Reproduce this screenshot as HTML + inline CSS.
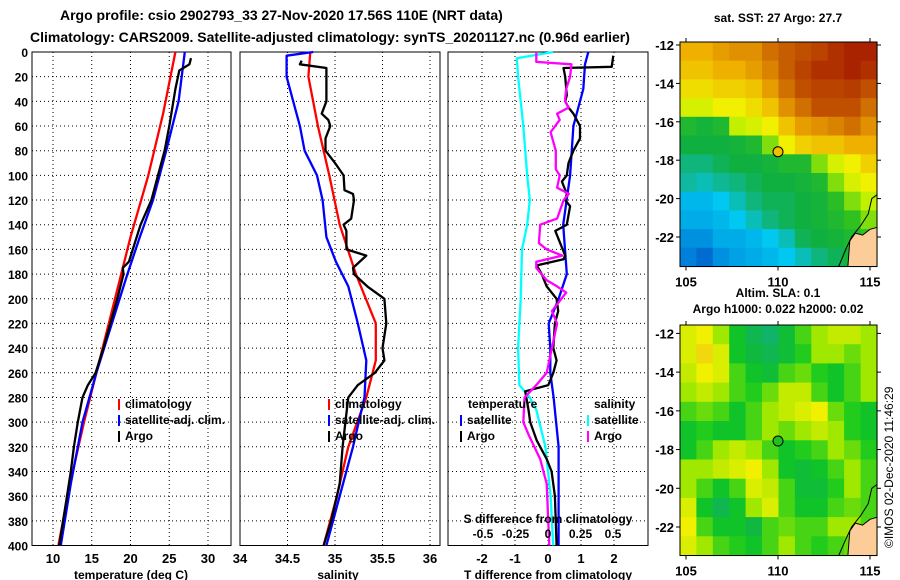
<!DOCTYPE html>
<html><head><meta charset="utf-8">
<style>
html,body{margin:0;padding:0;background:#fff;}
svg{display:block;font-family:"Liberation Sans",sans-serif;font-weight:bold;}
</style></head>
<body>
<svg id="c" width="900" height="580" viewBox="0 0 900 580" xmlns="http://www.w3.org/2000/svg">
<text x="60" y="20" font-size="14">Argo profile: csio 2902793_33 27-Nov-2020 17.56S 110E (NRT data)</text>
<text x="30" y="42" font-size="14">Climatology: CARS2009. Satellite-adjusted climatology: synTS_20201127.nc (0.96d earlier)</text>
<text x="778" y="22" font-size="12" text-anchor="middle">sat. SST: 27 Argo: 27.7</text>
<text x="778" y="297" font-size="12" text-anchor="middle">Altim. SLA: 0.1</text>
<text x="778" y="313" font-size="12" text-anchor="middle">Argo h1000: 0.022 h2000: 0.02</text>
<text x="893" y="548" font-size="12" font-weight="normal" transform="rotate(-90 893 548)">©IMOS 02-Dec-2020 11:46:29</text>
</svg>
<script>
// ---- data ----
const depthTicks=[0,20,40,60,80,100,120,140,160,180,200,220,240,260,280,300,320,340,360,380,400];
const tTicks=[10,15,20,25,30];
const sTicks=[34,34.5,35,35.5,36];
const dTicks=[-2,-1,0,1,2];
const dsTicks=[-0.5,-0.25,0,0.25,0.5];
const dsTickLabels=['-0.5','-0.25','0','0.25','0.5'];

const tClimD=[0,50,100,150,200,250,300,350,400];
const tClimV=[25.8,24.2,22.3,20.0,18.0,16.0,14.0,12.2,10.7];
const tSatD=[0,40,80,120,150,180,220,260,300,350,400];
const tSatV=[27.0,26.2,24.6,22.9,21.2,19.6,17.6,15.6,13.8,12.3,11.0];
const tArgoD=[5,10,15,30,60,80,120,140,170,175,180,200,240,260,270,280,300,320,340,360,400];
const tArgoV=[27.8,27.6,26.3,25.8,25.0,24.4,22.7,21.3,19.8,19.0,19.1,18.3,16.5,15.5,14.5,13.8,13.2,12.7,12.3,11.8,10.8];

const sClimD=[0,20,60,100,140,180,220,250,280,320,360,400];
const sClimV=[34.74,34.72,34.82,34.94,35.05,35.22,35.43,35.43,35.33,35.14,35.02,34.88];
const sSatD=[0,3,20,40,60,80,100,120,150,170,190,220,250,280,320,360,400];
const sSatV=[34.77,34.49,34.49,34.56,34.63,34.68,34.81,34.87,34.91,35.01,35.14,35.24,35.33,35.31,35.19,35.05,34.91];
const sArgoD=[7,10,13,20,40,50,55,60,70,80,90,100,112,115,120,135,140,145,160,165,175,180,190,200,220,240,250,260,270,280,300,320,350,380,400];
const sArgoV=[34.65,34.63,34.91,34.91,34.91,34.86,34.93,34.95,34.90,34.90,35.0,35.09,35.1,35.19,35.2,35.17,35.09,35.12,35.12,35.33,35.19,35.2,35.34,35.52,35.54,35.5,35.52,35.42,35.24,35.14,35.11,35.08,35.05,34.96,34.88];

const dTSatD=[0,10,30,60,100,140,180,200,220,240,260,280,320,360,400];
const dTSatV=[1.22,1.12,1.07,0.77,0.67,0.46,0.57,0.32,0.02,0.07,0.07,0.17,0.32,0.32,0.32];
const dTArgoD=[3,12,13,20,35,40,45,50,60,70,80,90,100,105,115,120,125,140,145,155,165,168,173,180,190,200,210,220,240,250,260,270,275,290,300,315,330,340,360,400];
const dTArgoV=[1.98,1.93,0.47,0.52,0.57,0.52,0.62,0.77,0.97,0.97,0.77,0.62,0.57,0.42,0.57,0.52,0.67,0.57,0.22,0.37,0.52,0.47,-0.34,-0.19,-0.04,0.26,0.31,0.21,0.16,0.26,0.16,0.01,-0.69,-0.59,-0.54,-0.34,-0.04,0.11,0.21,0.26];
const dSSatD=[0,5,20,60,100,120,140,160,200,240,270,280,290,320,360,400];
const dSSatV=[0.04,-0.24,-0.23,-0.19,-0.16,-0.14,-0.16,-0.20,-0.21,-0.23,-0.22,-0.14,-0.09,-0.02,0.02,0.04];
const dSArgoD=[0,8,10,20,30,40,45,50,55,65,80,95,100,110,115,120,135,140,155,160,165,170,175,185,190,195,210,220,240,260,270,280,300,310,330,350,400];
const dSArgoV=[-0.09,-0.09,0.18,0.17,0.14,0.13,0.16,0.07,0.09,0.02,0.06,0.06,0.09,0.07,0.16,0.12,0.07,-0.06,-0.07,-0.01,0.11,-0.09,-0.09,-0.01,0.07,0.14,0.03,0.07,0.03,-0.01,-0.09,-0.18,-0.19,-0.15,-0.06,-0.01,0.01];

const sstGrid=[
[.75,.75,.78,.8,.8,.85,.88,.9,.92,.95,.97,.97],
[.72,.72,.75,.75,.78,.82,.88,.92,.95,.95,.97,.95],
[.68,.68,.7,.7,.72,.78,.85,.9,.92,.92,.93,.9],
[.62,.62,.65,.65,.68,.72,.8,.85,.9,.9,.9,.85],
[.45,.42,.45,.6,.62,.65,.72,.78,.8,.82,.85,.8],
[.4,.4,.4,.42,.45,.55,.65,.7,.72,.72,.75,.75],
[.35,.35,.38,.4,.4,.42,.45,.45,.55,.62,.65,.7],
[.32,.3,.33,.35,.38,.4,.4,.42,.45,.55,.62,.65],
[.22,.22,.25,.3,.35,.38,.38,.4,.42,.48,.55,.6],
[.2,.2,.22,.25,.3,.35,.38,.4,.42,.45,.5,.55],
[.15,.15,.2,.2,.22,.25,.3,.38,.4,.42,.45,.5],
[.12,.08,.15,.18,.2,.22,.25,.3,.35,.38,.42,.45]];
const slaGrid=[
[.6,.62,.55,.45,.38,.35,.42,.5,.55,.58,.58,.55],
[.6,.65,.6,.45,.4,.38,.42,.48,.55,.55,.52,.55],
[.58,.62,.6,.5,.45,.42,.5,.52,.48,.45,.5,.55],
[.55,.58,.55,.5,.48,.52,.58,.58,.5,.45,.5,.55],
[.5,.52,.5,.45,.5,.55,.58,.6,.62,.52,.48,.45],
[.45,.48,.45,.45,.5,.55,.52,.55,.58,.55,.48,.45],
[.45,.5,.55,.58,.55,.5,.45,.48,.5,.55,.52,.48],
[.55,.55,.58,.6,.62,.55,.45,.42,.45,.5,.55,.5],
[.55,.5,.45,.5,.6,.58,.5,.42,.42,.48,.55,.5],
[.6,.45,.38,.45,.55,.6,.5,.45,.45,.5,.52,.5],
[.62,.5,.45,.45,.4,.5,.52,.5,.5,.55,.55,.5],
[.6,.55,.5,.48,.45,.5,.55,.5,.48,.5,.52,.5]];
const lonTicks=[105,110,115];
const latTicks=[-12,-14,-16,-18,-20,-22];
const floatLon=[110.0], floatLat=[-17.56];

// ---- helpers ----
const svg=document.getElementById('c');
const NS='http://www.w3.org/2000/svg';
function mk(tag,attrs,parent){const e=document.createElementNS(NS,tag);for(const k in attrs)e.setAttribute(k,attrs[k]);(parent||svg).appendChild(e);return e;}
function txt(x,y,s,size,anchor,parent){const e=mk('text',{x:x,y:y,'font-size':size,'text-anchor':anchor||'start'},parent);e.textContent=s;return e;}
const Y0=52,Y1=545.5;
const yD=d=>Y0+d*(Y1-Y0)/400;
const p1x=v=>53+(v-10)*7.75;
const p2x=v=>240+(v-34)*95;
const p3T=v=>548+v*33;
const p3S=v=>548+v*130;

function panel(x0,x1,name,xt,xf,labels){
  const g=mk('g',{});
  
  
  depthTicks.forEach(d=>{
    if(d>0&&d<400){const l=mk('line',{x1:x0,x2:x1,y1:yD(d),y2:yD(d),stroke:'#000','stroke-width':1,'stroke-dasharray':'1,3'},g);
    
    }
  });
  xt.forEach((v,i)=>{
    const x=xf(v);
    if(x>x0+1&&x<x1-1){const l=mk('line',{x1:x,x2:x,y1:Y0,y2:Y1,stroke:'#000','stroke-width':1,'stroke-dasharray':'1,3'},g);
    
    }
    const t=txt(x,563,labels?labels[i]:String(v),13,'middle',g);
    
    
  });
  const r=mk('rect',{x:x0,y:Y0,width:x1-x0,height:Y1-Y0,fill:'none',stroke:'#000','stroke-width':1},g);
  
  
  return g;
}
function line(D,V,xf,col,w,name,g){
  const pts=D.map((d,i)=>xf(V[i]).toFixed(1)+','+yD(d).toFixed(1)).join(' ');
  const p=mk('polyline',{points:pts,fill:'none',stroke:col,'stroke-width':w,'stroke-linejoin':'round'},g);
  
  
}
function legend(x,y,col,label,g){
  const m=mk('line',{x1:x,x2:x,y1:y-9,y2:y+2,stroke:col,'stroke-width':2},g);
  
  
  const t=txt(x+6,y,label,12,'start',g);
  
  
}

// y tick labels
depthTicks.forEach(d=>{const t=txt(28,yD(d)+5,String(d),12,'end');

});

// Panel 1
const g1=panel(32,231,'temperature-panel',tTicks,p1x);
line(tClimD,tClimV,p1x,'#f00',2.3,'temperature-climatology-line',g1);
line(tSatD,tSatV,p1x,'#00f',2.3,'temperature-satellite-line',g1);
line(tArgoD,tArgoV,p1x,'#000',2.3,'temperature-argo-line',g1);
legend(119,408,'#f00','climatology',g1);legend(119,424,'#00f','satellite-adj. clim.',g1);legend(119,440,'#000','Argo',g1);
let a=txt(131,579,'temperature (deg C)',12,'middle');

// Panel 2
const g2=panel(240,440,'salinity-panel',sTicks,p2x);
line(sClimD,sClimV,p2x,'#f00',2.3,'salinity-climatology-line',g2);
line(sSatD,sSatV,p2x,'#00f',2.3,'salinity-satellite-line',g2);
line(sArgoD,sArgoV,p2x,'#000',2.3,'salinity-argo-line',g2);
legend(329,408,'#f00','climatology',g2);legend(329,424,'#00f','satellite-adj. clim.',g2);legend(329,440,'#000','Argo',g2);
a=txt(338,579,'salinity',12,'middle');

// Panel 3
const g3=panel(448,648,'difference-panel',dTicks,p3T);
line(dSSatD,dSSatV,p3S,'#0ff',2.3,'salinity-satellite-diff-line',g3);
line(dTSatD,dTSatV,p3T,'#00f',2.3,'temperature-satellite-diff-line',g3);
line(dTArgoD,dTArgoV,p3T,'#000',2.3,'temperature-argo-diff-line',g3);
line(dSArgoD,dSArgoV,p3S,'#f0f',2.3,'salinity-argo-diff-line',g3);
a=txt(468,408,'temperature',12,'start',g3);
a=txt(594,408,'salinity',12,'start',g3);
legend(461,424,'#00f','satellite',g3);legend(461,440,'#000','Argo',g3);
legend(588,424,'#0ff','satellite',g3);legend(588,440,'#f0f','Argo',g3);
a=txt(548,523,'S difference from climatology',12,'middle',g3);
dsTicks.forEach((v,i)=>{const t=txt(p3S(v),538,dsTickLabels[i],12,'middle',g3);

});
a=txt(548,579,'T difference from climatology',12,'middle');

// Maps
function lerp(a,b,t){return a+(b-a)*t;}
function cmap(stops,v){
  for(let i=1;i<stops.length;i++){if(v<=stops[i][0]||i==stops.length-1){
    const s0=stops[i-1],s1=stops[i];let t=(v-s0[0])/(s1[0]-s0[0]);t=Math.max(0,Math.min(1,t));
    return 'rgb('+[0,1,2].map(k=>Math.round(lerp(s0[1][k],s1[1][k],t))).join(',')+')';}}
}
const sstStops=[[0,[0,64,192]],[.15,[0,144,224]],[.25,[0,200,240]],[.32,[16,184,160]],[.4,[16,176,64]],[.5,[48,192,32]],[.58,[176,240,0]],[.65,[240,240,0]],[.75,[240,176,0]],[.85,[208,112,0]],[1,[160,16,0]]];
const slaStops=[[.3,[16,176,144]],[.4,[16,184,64]],[.47,[16,200,32]],[.55,[160,232,0]],[.62,[240,240,0]],[.7,[240,176,32]]];
function map(top,bot,latY0,ppd,grid,stops,name,dotCol){
  const g=mk('g',{});
  
  
  const x0=680,x1=877;
  const lonX=l=>686+(l-105)*18.4;
  const latY=la=>latY0+(-12-la)*ppd;
  const nR=grid.length,nC=grid[0].length;
  const lon0=104.67,lon1=115.38;
  const la0=-12+(latY0-top)/ppd, la1=-12-(bot-latY0)/ppd;
  for(let r=0;r<nR;r++)for(let c=0;c<nC;c++){
    const xa=lonX(lon0+(lon1-lon0)*c/nC),xb=lonX(lon0+(lon1-lon0)*(c+1)/nC);
    const ya=latY(la0+(la1-la0)*r/nR),yb=latY(la0+(la1-la0)*(r+1)/nR);
    const cell=mk('rect',{x:xa.toFixed(1),y:ya.toFixed(1),width:(xb-xa+0.6).toFixed(1),height:(yb-ya+0.6).toFixed(1),fill:cmap(stops,grid[r][c])},g);
    
    
  }
  const land=[[113.8,la1],[113.9,-22.2],[114.2,-21.8],[114.6,-21.9],[115.0,-21.6],[115.38,-21.5],[115.38,la1]];
  const lp=mk('polygon',{points:land.map(p=>lonX(p[0]).toFixed(1)+','+latY(p[1]).toFixed(1)).join(' '),fill:'#fccc99',stroke:'#000','stroke-width':1},g);
  
  
  const coast=[[113.3,la1],[113.7,-22.6],[114.0,-22.0],[114.5,-21.4],[114.9,-20.8],[115.1,-20.0],[115.38,-19.8]];
  const cl=mk('polyline',{points:coast.map(p=>lonX(p[0]).toFixed(1)+','+latY(p[1]).toFixed(1)).join(' '),fill:'none',stroke:'#000','stroke-width':1},g);
  
  
  const fr=mk('rect',{x:x0,y:top,width:x1-x0,height:bot-top,fill:'none',stroke:'#000','stroke-width':1},g);
  
  
  lonTicks.forEach(l=>{
    mk('line',{x1:lonX(l),x2:lonX(l),y1:bot,y2:bot+4,stroke:'#000'},g);
    mk('line',{x1:lonX(l),x2:lonX(l),y1:top,y2:top-4,stroke:'#000'},g);
    const t=txt(lonX(l),bot+20,String(l),13,'middle',g);
    
    
  });
  latTicks.forEach(la=>{
    mk('line',{x1:x0,x2:x0-4,y1:latY(la),y2:latY(la),stroke:'#000'},g);
    mk('line',{x1:x1,x2:x1+4,y1:latY(la),y2:latY(la),stroke:'#000'},g);
    const t=txt(674,latY(la)+5,String(la),13,'end',g);
    
    
  });
  const dot=mk('circle',{cx:lonX(floatLon[0]),cy:latY(floatLat[0]),r:5,fill:dotCol,stroke:'#000','stroke-width':1},g);
  
  
}
map(42,266.5,45,19.2,sstGrid,sstStops,'sst-map','#f0c000');
map(325,555.5,333.4,19.36,slaGrid,slaStops,'sla-map','#20c020');
</script>
</body></html>
